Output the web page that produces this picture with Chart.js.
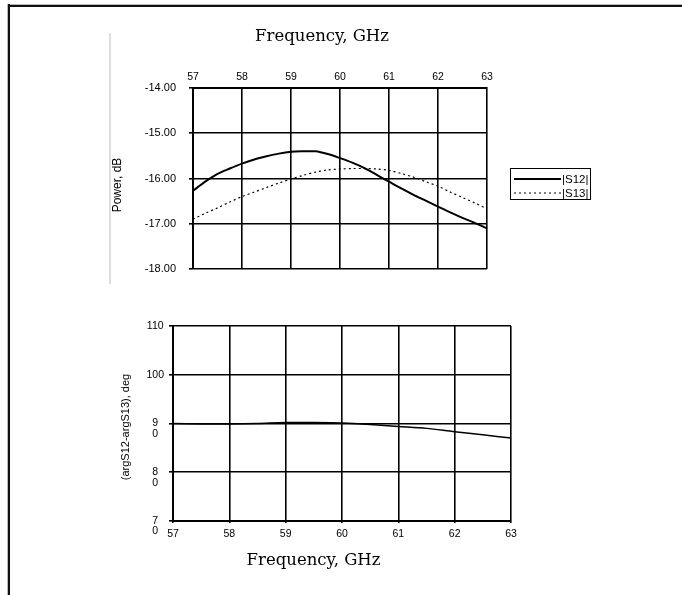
<!DOCTYPE html>
<html>
<head>
<meta charset="utf-8">
<title>S12 / S13 vs Frequency</title>
<script src="https://cdn.jsdelivr.net/npm/chart.js@4/dist/chart.umd.min.js"></script>
<style>
    html, body { margin: 0; padding: 0; background: #fff; overflow: hidden; }
    #page { position: relative; width: 682px; height: 595px; overflow: hidden; }
    #page canvas { position: absolute; left: 0; top: 0; }
    .rule-top { position: absolute; left: 7px; top: 4px; width: 675px; height: 2px; background: #111; border-top: 1px solid #b8b8b8; }
    .rule-left { position: absolute; left: 7px; top: 4px; width: 2px; height: 591px; background: #111; border-left: 1px solid #b8b8b8; }
    .sep { position: absolute; left: 109px; top: 33px; width: 2px; height: 251px; background: #dedede; }
</style>
</head>
<body>
<div id="page">
    <div class="rule-top"></div>
    <div class="rule-left"></div>
    <div class="sep"></div>
    <canvas id="power-chart" width="682" height="595"></canvas>
    <canvas id="phase-chart" width="682" height="595"></canvas>
</div>

<script>
// Chart data
const powerFreq = [57, 57.25, 57.5, 57.75, 58, 58.25, 58.5, 58.75, 59, 59.25, 59.5, 59.75,
                   60, 60.25, 60.5, 60.75, 61, 61.25, 61.5, 61.75, 62, 62.25, 62.5, 62.75, 63];
const s12 = [-16.27, -16.07, -15.90, -15.78, -15.67, -15.58, -15.51, -15.45, -15.41, -15.40, -15.40, -15.46,
             -15.55, -15.65, -15.77, -15.92, -16.07, -16.22, -16.36, -16.49, -16.62, -16.75, -16.87, -16.98, -17.10];
const s13 = [-16.90, -16.77, -16.65, -16.52, -16.40, -16.30, -16.20, -16.10, -16.01, -15.93, -15.86, -15.81,
             -15.79, -15.78, -15.78, -15.79, -15.82, -15.89, -15.97, -16.07, -16.17, -16.30, -16.42, -16.54, -16.67];
const seriesLabels = ['|S12|', '|S13|'];

const phaseFreq = [57, 57.5, 58, 58.5, 59, 59.5, 60, 60.5, 61, 61.5, 62, 62.5, 63];
const phaseDiff = [90.0, 89.9, 89.9, 90.0, 90.2, 90.2, 90.1, 89.8, 89.4, 89.0, 88.3, 87.7, 87.0];

const freqTicks = [57, 58, 59, 60, 61, 62, 63];
const powerTicks = [-18, -17, -16, -15, -14];
const phaseTicks = [70, 80, 90, 100, 110];
// the phase axis wraps its two-digit labels onto two lines
const phaseTickLabels = { 70: ['', '7', '0'], 80: ['', '8', '0'], 90: ['', '9', '0'], 100: '100', 110: '110' };

const freqTitle = 'Frequency, GHz';
const powerTitle = 'Power, dB';
const phaseTitle = '(argS12-argS13), deg';

const SANS = '"Liberation Sans", Arial, sans-serif';
const SERIF = '"DejaVu Serif", serif';

const toPoints = (xs, ys) => xs.map((x, i) => ({ x, y: ys[i] }));

// Text that sits at fixed spots on the sheet (axis titles)
const freeTextPlugin = {
    id: 'freeText',
    afterDraw(chart, args, opts) {
        const ctx = chart.ctx;
        (opts.items || []).forEach(item => {
            ctx.save();
            ctx.font = item.font;
            ctx.fillStyle = '#000';
            ctx.textAlign = 'center';
            ctx.textBaseline = item.baseline || 'alphabetic';
            ctx.translate(item.x, item.y);
            if (item.rotate) ctx.rotate(item.rotate);
            ctx.fillText(item.text, 0, 0);
            ctx.restore();
        });
    }
};

// Boxed legend with line samples, like the original sheet
const boxLegendPlugin = {
    id: 'boxLegend',
    afterDraw(chart, args, opts) {
        if (!opts.display) return;
        const ctx = chart.ctx;
        ctx.save();
        ctx.strokeStyle = '#000';
        ctx.lineWidth = 1;
        ctx.strokeRect(opts.x + 0.5, opts.y + 0.5, opts.width, opts.height);
        ctx.font = opts.font;
        ctx.fillStyle = '#000';
        ctx.textBaseline = 'middle';
        chart.data.datasets.forEach((ds, i) => {
            const y = opts.y + opts.rowStart + i * opts.rowGap;
            ctx.beginPath();
            ctx.setLineDash(ds.borderDash || []);
            ctx.lineWidth = ds.borderWidth;
            ctx.strokeStyle = ds.borderColor;
            ctx.moveTo(opts.x + 4, y);
            ctx.lineTo(opts.x + 4 + opts.sampleLength, y);
            ctx.stroke();
            ctx.setLineDash([]);
            ctx.fillText(ds.label, opts.x + 5 + opts.sampleLength, y + 0.5);
        });
        ctx.restore();
    }
};

function fixedWidth(w) {
    return scale => { scale.width = w; };
}

function fixedHeight(h) {
    return scale => { scale.height = h; };
}

function gridFor(tickLength) {
    return {
        color: '#000',
        lineWidth: 1.6,
        drawTicks: tickLength > 0,
        tickLength: tickLength
    };
}

// Top chart: power vs frequency, frequency axis on top
new Chart(document.getElementById('power-chart'), {
    type: 'line',
    data: {
        datasets: [{
            label: seriesLabels[0],
            data: toPoints(powerFreq, s12),
            borderColor: '#000',
            borderWidth: 2,
            pointRadius: 0,
            tension: 0.3
        }, {
            label: seriesLabels[1],
            data: toPoints(powerFreq, s13),
            borderColor: '#000',
            borderWidth: 1.2,
            borderDash: [2, 3],
            pointRadius: 0,
            tension: 0.3
        }]
    },
    options: {
        responsive: false,
        animation: false,
        devicePixelRatio: 1,
        layout: { padding: { left: 113, top: 58, right: 195, bottom: 326 } },
        scales: {
            x: {
                type: 'linear',
                position: 'top',
                min: 57,
                max: 63,
                afterFit: fixedHeight(30),
                afterBuildTicks: scale => { scale.ticks = freqTicks.map(v => ({ value: v })); },
                ticks: { color: '#000', font: { family: SANS, size: 10.5 }, padding: 5, maxRotation: 0 },
                grid: gridFor(0),
                border: { color: '#000', width: 2 }
            },
            y: {
                min: -18,
                max: -14,
                afterFit: fixedWidth(80),
                afterBuildTicks: scale => { scale.ticks = powerTicks.map(v => ({ value: v })); },
                ticks: {
                    color: '#000',
                    font: { family: SANS, size: 11 },
                    padding: 13,
                    callback: v => v.toFixed(2)
                },
                grid: gridFor(4),
                border: { color: '#000', width: 2 }
            }
        },
        plugins: {
            legend: { display: false },
            tooltip: { enabled: false },
            boxLegend: {
                display: true,
                x: 510, y: 168, width: 80, height: 31,
                rowStart: 11, rowGap: 14,
                sampleLength: 47,
                font: '11.5px ' + SANS
            },
            freeText: {
                items: [
                    { text: freqTitle, x: 322, y: 40.5, font: '16.5px ' + SERIF },
                    { text: powerTitle, x: 117.5, y: 185, font: '12px ' + SANS, rotate: -Math.PI / 2, baseline: 'middle' }
                ]
            }
        }
    },
    plugins: [freeTextPlugin, boxLegendPlugin]
});

// Bottom chart: phase difference vs frequency
new Chart(document.getElementById('phase-chart'), {
    type: 'line',
    data: {
        datasets: [{
            label: 'argS12-argS13',
            data: toPoints(phaseFreq, phaseDiff),
            borderColor: '#000',
            borderWidth: 1.5,
            pointRadius: 0,
            tension: 0.3
        }]
    },
    options: {
        responsive: false,
        animation: false,
        devicePixelRatio: 1,
        layout: { padding: { left: 113, top: 326, right: 171, bottom: 44 } },
        scales: {
            x: {
                type: 'linear',
                position: 'bottom',
                min: 57,
                max: 63,
                afterFit: fixedHeight(30),
                afterBuildTicks: scale => { scale.ticks = freqTicks.map(v => ({ value: v })); },
                ticks: { color: '#000', font: { family: SANS, size: 10.5 }, padding: 5, maxRotation: 0 },
                grid: gridFor(2),
                border: { color: '#000', width: 2 }
            },
            y: {
                min: 70,
                max: 110,
                afterFit: fixedWidth(60),
                afterBuildTicks: scale => { scale.ticks = phaseTicks.map(v => ({ value: v })); },
                ticks: {
                    color: '#000',
                    font: { family: SANS, size: 10.5, lineHeight: 1 },
                    padding: 5,
                    crossAlign: 'center',
                    callback: v => phaseTickLabels[v]
                },
                grid: gridFor(4),
                border: { color: '#000', width: 2 }
            }
        },
        plugins: {
            legend: { display: false },
            tooltip: { enabled: false },
            freeText: {
                items: [
                    { text: freqTitle, x: 313.5, y: 564.5, font: '16.5px ' + SERIF },
                    { text: phaseTitle, x: 126, y: 427, font: '11px ' + SANS, rotate: -Math.PI / 2, baseline: 'middle' }
                ]
            }
        }
    },
    plugins: [freeTextPlugin]
});
</script>
</body>
</html>
